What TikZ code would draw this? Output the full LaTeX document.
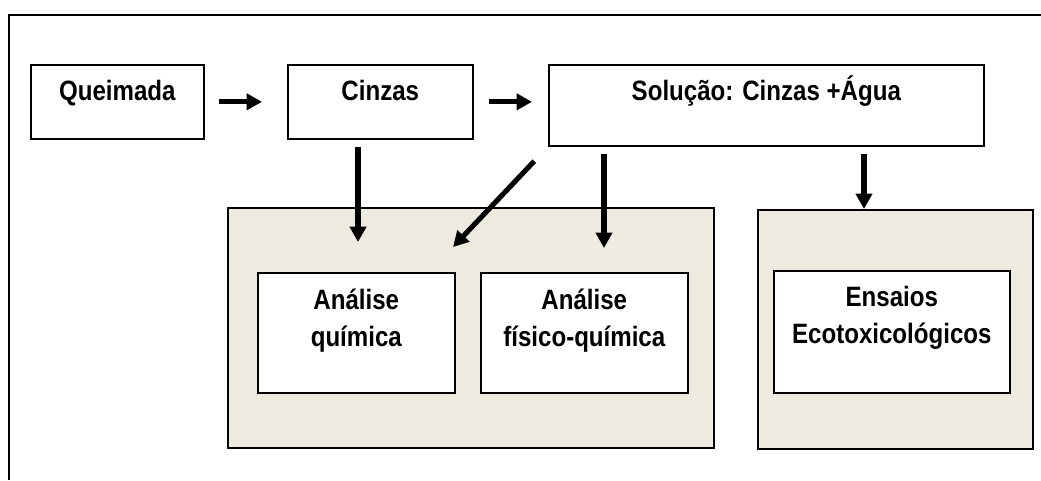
\documentclass[tikz,border=0pt]{standalone}
\usepackage{fontspec}
\setmainfont{Liberation Sans}[FakeStretch=0.86]
\usetikzlibrary{arrows.meta}
\definecolor{panelgray}{RGB}{237,234,224}

\begin{document}
\begin{tikzpicture}[x=0.75pt, y=-0.75pt,
    every node/.style={inner sep=0pt, anchor=north west, align=center,
      font=\bfseries\fontsize{21}{27.75}\selectfont},
    box/.style={draw, line width=1.2pt, fill=white},
    panel/.style={draw, line width=1.2pt, fill=panelgray},
    arr/.style={line width=3.8pt, -{Triangle[length=11.5pt, width=12pt]}}]
  \useasboundingbox (0,0) rectangle (1041,480);
  \draw [line width=1.4pt] (9,480) -- (9,15) -- (1041,15);
  % top row
  \node [box, minimum width=129.75pt, text height=27pt, text depth=28.5pt] (queimada) at (30,64) {Queimada};
  \node [box, minimum width=138.75pt, text height=27pt, text depth=28.5pt] (cinzas) at (287,64) {Cinzas};
  \node [box, minimum width=326.25pt, text height=27pt, text depth=33.75pt] (solucao) at (548,64) {Solução: Cinzas +Água};
  % panels
  \node [panel, minimum width=364.5pt, minimum height=180pt] (analises) at (227,207) {};
  \node [panel, minimum width=206.25pt, minimum height=179.25pt] (ensaios) at (757,209) {};
  \node [box, minimum width=147.75pt, text height=55.5pt, text depth=34.5pt] (quimica) at (257,272) {Análise\\química};
  \node [box, minimum width=155.25pt, text height=55.5pt, text depth=34.5pt] (fisquim) at (480,272) {Análise\\físico-química};
  \node [box, minimum width=177pt, text height=54.75pt, text depth=36.75pt] (ecotox) at (773,270) {Ensaios\\Ecotoxicológicos};
  % arrow tips
  \coordinate (tipC) at (358,242);
  \coordinate (tipD) at (453,247);
  \coordinate (tipS) at (604,248);
  \coordinate (tipE) at (864,209);
  \draw [arr, shorten <=10.5pt, shorten >=18.75pt] (queimada.east) -- (cinzas.west);
  \draw [arr, shorten <=11.25pt, shorten >=12pt] (cinzas.east) -- (cinzas.east -| solucao.west);
  \draw [arr, shorten <=5.25pt] (cinzas.south -| tipC) -- (tipC);
  \draw [arr, shorten <=15pt] (solucao.south west) -- (tipD);
  \draw [arr, shorten <=5.25pt] (solucao.south -| tipS) -- (tipS);
  \draw [arr, shorten <=5.25pt] (solucao.south -| tipE) -- (tipE);
\end{tikzpicture}
\end{document}
